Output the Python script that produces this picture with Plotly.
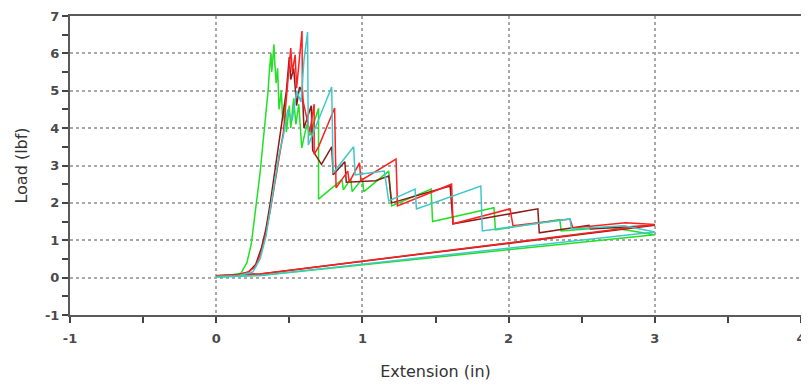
import plotly.graph_objects as go

# Extension (in) / Load (lbf) vertices for each specimen
green_x = [0.00, 0.10, 0.17, 0.21, 0.24, 0.26, 0.28, 0.30, 0.32, 0.34, 0.355, 0.365, 0.375, 0.38, 0.395, 0.40,
           0.41, 0.42, 0.43, 0.445, 0.455, 0.47, 0.48, 0.50, 0.51, 0.53, 0.545, 0.565, 0.585, 0.62, 0.64, 0.70, 0.70,
           0.86, 0.87, 0.92, 0.93, 1.00, 1.01, 1.18, 1.20, 1.47, 1.48, 1.90, 1.91, 2.35, 2.36, 2.69, 3.00,
           0.30, 0.00]
green_y = [0.05, 0.07, 0.12, 0.40, 0.90, 1.50, 2.10, 2.80, 3.60, 4.30, 5.00, 5.60, 6.00, 5.50, 6.24, 5.80,
           5.20, 5.60, 4.50, 5.00, 4.20, 4.70, 3.90, 4.60, 4.00, 4.80, 4.10, 4.64, 3.47, 4.10, 3.80, 4.53, 2.10,
           2.62, 2.35, 2.65, 2.30, 2.65, 2.30, 2.85, 1.92, 2.37, 1.50, 1.87, 1.28, 1.55, 1.25, 1.35, 1.15,
           0.06, 0.02]

red_x = [0.00, 0.15, 0.22, 0.27, 0.31, 0.34, 0.37, 0.40, 0.43, 0.46, 0.48, 0.50, 0.51, 0.52, 0.54, 0.55,
         0.57, 0.587, 0.59, 0.62, 0.64, 0.67, 0.67, 0.70, 0.81, 0.82, 0.90, 0.91, 0.98, 0.99, 1.23, 1.24,
         1.61, 1.62, 2.01, 2.03, 2.42, 2.44, 2.80, 3.00, 0.30, 0.00]
red_y = [0.05, 0.08, 0.15, 0.30, 0.70, 1.20, 1.80, 2.50, 3.20, 3.90, 4.80, 5.60, 6.14, 5.50, 5.96, 5.07,
         6.00, 6.60, 4.80, 4.20, 3.90, 4.64, 3.30, 3.50, 4.54, 2.40, 2.85, 2.55, 3.07, 2.60, 3.17, 1.92,
         2.50, 1.44, 1.84, 1.39, 1.57, 1.33, 1.47, 1.42, 0.10, 0.05]

maroon_x = [0.00, 0.15, 0.22, 0.27, 0.31, 0.34, 0.37, 0.40, 0.43, 0.46, 0.48, 0.50, 0.51, 0.53, 0.55,
            0.57, 0.59, 0.60, 0.65, 0.66, 0.72, 0.79, 0.80, 0.88, 0.89, 1.09, 1.18, 1.20, 1.60, 1.62,
            2.20, 2.21, 2.55, 2.56, 3.00, 0.30, 0.00]
maroon_y = [0.05, 0.08, 0.15, 0.35, 0.80, 1.30, 2.00, 2.80, 3.60, 4.40, 5.00, 5.90, 5.30, 5.60, 4.60,
            5.10, 4.98, 4.00, 4.60, 3.40, 3.03, 3.50, 2.75, 3.10, 2.55, 2.59, 2.72, 2.00, 2.45, 1.44,
            1.84, 1.20, 1.40, 1.30, 1.40, 0.10, 0.05]

cyan_x = [0.00, 0.15, 0.25, 0.30, 0.34, 0.37, 0.40, 0.43, 0.46, 0.49, 0.52, 0.55, 0.58, 0.60, 0.625, 0.63,
          0.79, 0.80, 0.94, 0.95, 1.15, 1.18, 1.36, 1.37, 1.81, 1.82, 2.42, 2.43, 2.79, 3.00, 0.30, 0.00]
cyan_y = [0.03, 0.05, 0.15, 0.50, 1.10, 1.80, 2.60, 3.30, 3.80, 4.50, 4.20, 5.00, 4.70, 5.80, 6.57, 3.55,
          5.10, 2.80, 3.50, 2.75, 2.85, 2.05, 2.37, 1.84, 2.45, 1.25, 1.57, 1.30, 1.39, 1.22, 0.06, 0.02]

series = [
    ("green", green_x, green_y, "#22e022"),
    ("maroon", maroon_x, maroon_y, "#8b1a1a"),
    ("red", red_x, red_y, "#ff2020"),
    ("cyan", cyan_x, cyan_y, "#40c8c8"),
]

x_ticks = [-1, 0, 1, 2, 3, 4]
y_ticks = [-1, 0, 1, 2, 3, 4, 5, 6, 7]

fig = go.Figure()
for name, xs, ys, col in series:
    fig.add_trace(go.Scatter(x=xs, y=ys, mode="lines", name=name,
                             line=dict(color=col, width=1.5), showlegend=False))

axis_common = dict(
    automargin=False,
    showline=True, linecolor="#5a5a5a", linewidth=2, mirror=True,
    showgrid=True, gridcolor="#a8a8a8", griddash="dot", gridwidth=1.5,
    zeroline=False, ticks="outside", ticklen=6, tickwidth=1.5, tickcolor="#444",
    minor=dict(ticks="outside", ticklen=6, tickwidth=1.5, tickcolor="#444", dtick=0.5, showgrid=False),
    tickfont=dict(family="DejaVu Sans", size=13, color="#4a4a4a", weight="bold"),
    ticklabeloverflow="allow",
)

fig.update_layout(
    width=801, height=380,
    margin=dict(l=62, r=8, t=8, b=73),
    paper_bgcolor="white", plot_bgcolor="white",
    xaxis=dict(range=[-1, 4], tickvals=x_ticks, ticktext=[str(v) for v in x_ticks],
               ticklabelstandoff=4,
               title=dict(text="Extension (in)", font=dict(family="DejaVu Sans", size=16, color="#333"), standoff=21),
               **axis_common),
    yaxis=dict(range=[-1, 7], tickvals=y_ticks, ticktext=[str(v) for v in y_ticks],
               title=dict(text="Load (lbf)", font=dict(family="DejaVu Sans", size=16, color="#333"), standoff=13),
               **axis_common),
)

fig.write_html("out.html")
